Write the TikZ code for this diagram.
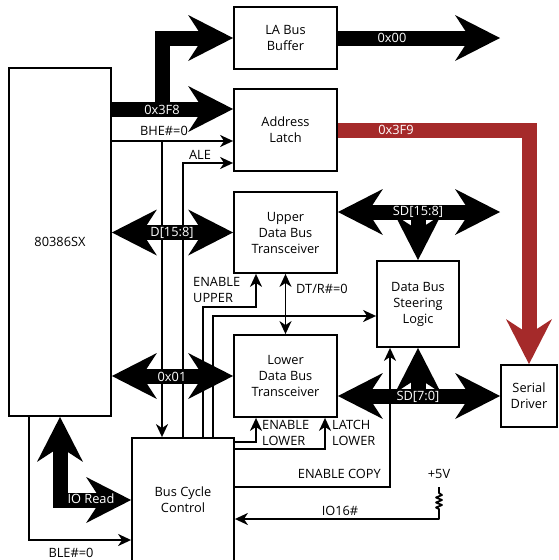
\documentclass[tikz,border=0pt]{standalone}
\usepackage{fontspec}
\setmainfont{Open Sans}
\usetikzlibrary{arrows.meta,calc}
\definecolor{busred}{HTML}{A52A2A}
\begin{document}
\begin{tikzpicture}[x=1pt,y=-1pt,
  font=\fontsize{12.8}{16}\selectfont,
  box/.style={draw, line width=1.8pt, align=center, inner sep=0pt},
  sig/.style={line width=1.8pt},
  sigarr/.style={sig, -{Stealth[length=13pt,width=12pt,inset=4pt]}},
  sigboth/.style={sig, {Stealth[length=13pt,width=12pt,inset=4pt]}-{Stealth[length=13pt,width=12pt,inset=4pt]}},
  bus/.style={line width=15pt, -{Stealth[length=45pt,width=46pt,inset=15pt,line width=0pt]}},
  busboth/.style={line width=15pt, {Stealth[length=45pt,width=46pt,inset=15pt,line width=0pt]}-{Stealth[length=45pt,width=46pt,inset=15pt,line width=0pt]}},
  lbl/.style={inner sep=0pt},
  buslabel/.style={fill=black, text=white, inner sep=1pt},
]
\useasboundingbox (0,0) rectangle (558,560);
\begin{scope}
\clip (0,0) rectangle (558,560);

% blocks
\node[box, minimum width=102pt, minimum height=348pt] (cpu) at (60,242) {80386SX};
\node[box, minimum width=103pt, minimum height=62pt] (buffer) at (285.5,38) {LA Bus\\Buffer};
\node[box, minimum width=103pt, minimum height=82pt] (latch) at (285.5,130) {Address\\Latch};
\node[box, minimum width=103pt, minimum height=81pt] (upper) at (285.5,232.5) {Upper\\Data Bus\\Transceiver};
\node[box, minimum width=103pt, minimum height=82pt] (lower) at (285.5,376) {Lower\\Data Bus\\Transceiver};
\node[box, minimum width=82pt, minimum height=86pt] (steer) at (418,304) {Data Bus\\Steering\\Logic};
\node[box, minimum width=56pt, minimum height=62pt] (serial) at (529,396) {Serial\\Driver};
\node[box, minimum width=102pt, minimum height=124pt] (bcc) at (183,500) {Bus Cycle\\Control};

\coordinate (laout) at (500,38);
\coordinate (sdright) at (500,212);
\coordinate (rtop) at (439,487);
\coordinate (bhein) at ($(bcc.north)+(-21,0)$);
\coordinate (enuout) at ($(bcc.north)+(20,0)$);
\coordinate (dirout) at ($(bcc.north)+(30,0)$);

% control signals
\draw[sigarr] (cpu.east |- 0,141) -- (latch.west |- 0,141);
\draw[sigarr] (bhein |- 0,141) -- (bhein);
\draw[sigarr] (bcc.north) |- (latch.west |- 0,163);
\draw[sigarr] (enuout) |- (256,307) -- (upper.south -| 256,0);
\draw[sigarr] (dirout) |- (steer.west |- 0,316);
\draw[sigboth] (upper.south) -- (lower.north);
\draw[sigarr] (bcc.east |- 0,442) -| (lower.south -| 256,0);
\draw[sigarr] (bcc.east |- 0,449) -| (lower.south -| 325,0);
\draw[sigarr] (bcc.east |- 0,487) -| (steer.south -| 390,0);
\draw[sigarr] (cpu.south -| 29,0) |- (bcc.west |- 0,540);
% pull-up resistor on IO16#
\draw[sigarr, line join=round] (rtop) -- (439,493) -- (442,495) -- (436,497.5) -- (442,500)
  -- (436,502.5) -- (442,505) -- (436,507.5) -- (439,509) -- (439,519) -- (bcc.east |- 0,519);

% buses
\draw[bus] (cpu.east |- 0,109) -- (latch.west |- 0,109);
\draw[bus] (162,109) |- (buffer.west);
\draw[bus] (buffer.east) -- (laout);
\draw[bus, busred] (latch.east) -| (serial.north);
\draw[busboth] (cpu.east |- upper.west) -- (upper.west);
\draw[busboth] (cpu.east |- lower.west) -- (lower.west);
\draw[busboth] (upper.east |- sdright) -- (sdright);
\draw[bus] (steer.north |- sdright) -- (steer.north);
\draw[busboth] (lower.east |- serial.west) -- (serial.west);
\draw[bus] (steer.south |- serial.west) -- (steer.south);
\draw[busboth] (cpu.south) |- (bcc.west);

% labels
\node[buslabel] (l3f8) at (162,110) {0x3F8};
\node[lbl] (lbhe) at (164,131) {BHE\#=0};
\node[lbl] (lale) at (200,155) {ALE};
\node[buslabel] (ld158) at (172,233) {D[15:8]};
\node[buslabel] (l01) at (172,377) {0x01};
\node[lbl, anchor=west, align=left] (lenu) at (193,290) {ENABLE\\UPPER};
\node[lbl] (ldtr) at (322,289) {DT/R\#=0};
\node[lbl, anchor=west, align=left] (lenl) at (262,433) {ENABLE\\LOWER};
\node[lbl, anchor=west, align=left] (llatch) at (332,433) {LATCH\\LOWER};
\node[lbl, anchor=east] (lcopy) at (381,474) {ENABLE COPY};
\node[lbl] (lvcc) at (439,474) {+5V};
\node[lbl] (lio16) at (340,511) {IO16\#};
\node[buslabel] (l00) at (392,38) {0x00};
\node[buslabel, fill=busred] (l3f9) at (396,130) {0x3F9};
\node[buslabel] (lsd158) at (418,212) {SD[15:8]};
\node[buslabel] (lsd70) at (418,397) {SD[7:0]};
\node[buslabel] (lior) at (91,499) {IO Read};
\node[lbl] (lble) at (71,553) {BLE\#=0};
\end{scope}
\end{tikzpicture}
\end{document}
